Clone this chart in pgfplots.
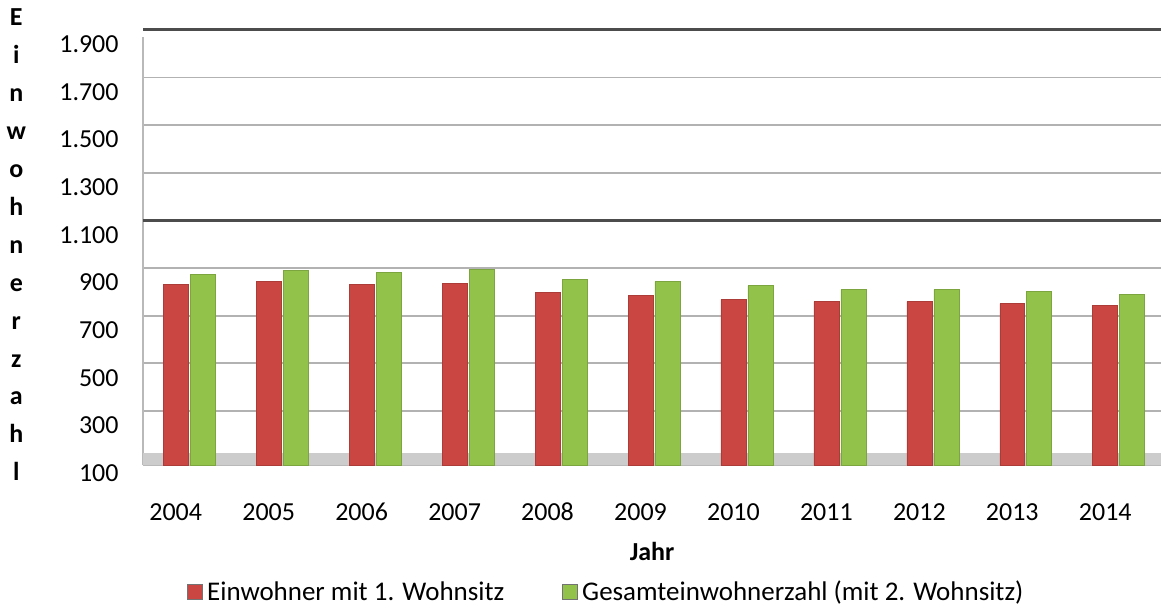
\documentclass[border=0pt]{standalone}
\usepackage{fontspec}
\setmainfont{Carlito}
\usepackage{pgfplots}
\usepackage{pgfplotstable}
\pgfplotsset{compat=1.18}

\definecolor{barred}{HTML}{C94642}
\definecolor{bargreen}{HTML}{93C24A}

% x = category index
\pgfplotstableread{
x year ew gesamt
0 2004 860 901
1 2005 872 918
2 2006 860 910
3 2007 864 922
4 2008 826 880
5 2009 813 872
6 2010 797 855
7 2011 788 839
8 2012 788 839
9 2013 780 830
10 2014 771 818
}\datatable

\begin{document}
\begin{tikzpicture}[font=\fontsize{13}{15.5}\selectfont]
\begin{axis}[
  name=ax,
  scale only axis,
  width=509.5pt,
  height=214.5pt,
  xmin=-0.35, xmax=10.6,
  ymin=100, ymax=1900,
  ytick={100,300,...,1900},
  xtick={0,...,10},
  xticklabels={2004,2005,2006,2007,2008,2009,2010,2011,2012,2013,2014},
  xticklabel style={text height=9pt, text depth=0pt, yshift=-15pt},
  yticklabel style={xshift=-8.8pt, yshift=-3.75pt},
  /pgf/number format/.cd, 1000 sep={.}, assume math mode=true,
  /pgfplots/.cd,
  major tick length=0pt,
  axis lines*=left,
  axis line style={gray!55, line width=1pt},
  ymajorgrids,
  major grid style={gray!60, line width=0.9pt, yshift=3.5pt},
  extra y ticks={1100,1900},
  extra y tick labels={},
  extra y tick style={major grid style={black!70, line width=1.5pt}},
  xlabel={\bfseries Jahr},
  xlabel style={at={(rel axis cs:0.5,0)}, anchor=center, yshift=-43pt},
  ylabel={E\\i\\n\\w\\o\\h\\n\\e\\r\\z\\a\\h\\l},
  ylabel style={rotate=-90, align=center, at={(rel axis cs:0,0.5)}, anchor=center,
    xshift=-63.5pt, yshift=3.25pt, font=\fontsize{13}{19}\selectfont\bfseries},
  legend columns=2,
  legend style={draw=none, at={(rel axis cs:0.456,0)}, anchor=center, yshift=-63.5pt,
    font=\fontsize{13.5}{16}\selectfont,
    /tikz/every even column/.append style={column sep=27pt}},
  legend image code/.code={\draw[#1, draw=black!55, line width=0.5pt] (0pt,-3.75pt) rectangle (7.5pt,3.75pt);},
  clip=false,
]
\fill[gray!40] (rel axis cs:0,0) rectangle ([yshift=6pt]rel axis cs:1,0);
\addplot[ybar, bar width=12.5pt, bar shift=0pt, draw=barred!85!black, line width=0.3pt, fill=barred]
  table[x=x, y=ew] {\datatable};
\addplot[ybar, bar width=12.5pt, bar shift=13.5pt, draw=bargreen!85!black, line width=0.3pt, fill=bargreen]
  table[x=x, y=gesamt] {\datatable};
\legend{Einwohner mit 1. Wohnsitz, Gesamteinwohnerzahl (mit 2. Wohnsitz)}
\end{axis}
\path ([xshift=-71pt, yshift=-70.5pt]ax.south west) rectangle ([xshift=5pt, yshift=18.5pt]ax.north east);
\end{tikzpicture}
\end{document}
